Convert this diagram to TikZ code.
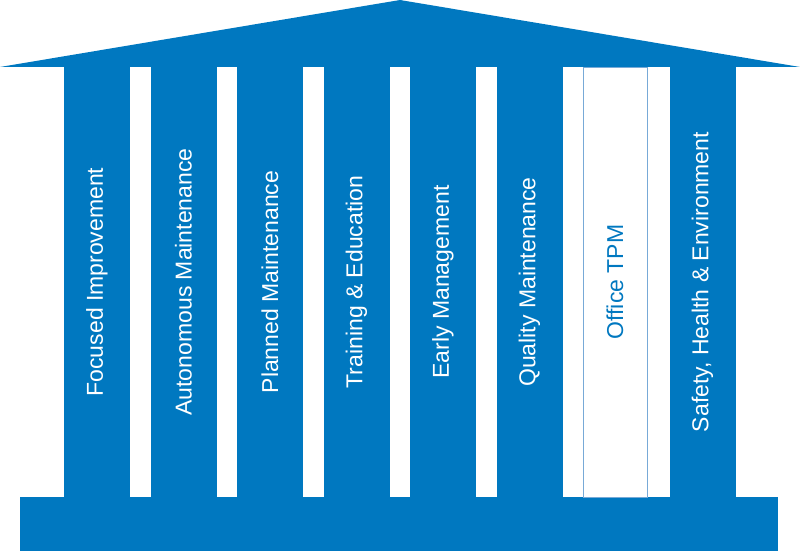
\documentclass[tikz,border=0pt]{standalone}
\usepackage{fontspec}
\setmainfont{Liberation Sans}
\definecolor{tpmblue}{RGB}{0,120,192}
\definecolor{tpmline}{RGB}{120,170,215}
\tikzset{
  pillar/.style={fill=tpmblue, draw=none},
  pillartext/.style={rotate=90, text=white, font=\fontsize{23}{23}\selectfont, inner sep=0pt}
}
\begin{document}
\begin{tikzpicture}[x=1pt, y=-1pt]
        \useasboundingbox (0,0) rectangle (800,551);
        % roof and base
        \coordinate (L) at (0,67);
        \coordinate (T) at (400,0);
        \coordinate (R) at (800,67);
        \fill[tpmblue] (L) -- (T) -- (R) -- cycle;
        \fill[tpmblue] (20,497) rectangle (778,551);

        % pillars
        \foreach \i/\txt in {0/Focused Improvement, 1/Autonomous Maintenance, 2/Planned Maintenance,
                             3/Training \& Education, 4/Early Management, 5/Quality Maintenance,
                             7/{Safety, Health \& Environment}} {
            \fill[pillar] (64+86.5*\i,66) rectangle (130+86.5*\i,498);
            \node[pillartext] (p\i) at (97+86.5*\i,282) {\txt};
        }

        % office pillar
        \draw[tpmline, fill=white] (583,67) rectangle (647,497);
        \node[pillartext, text=tpmblue] (p6) at (615,282) {Office TPM};
\end{tikzpicture}
\end{document}
